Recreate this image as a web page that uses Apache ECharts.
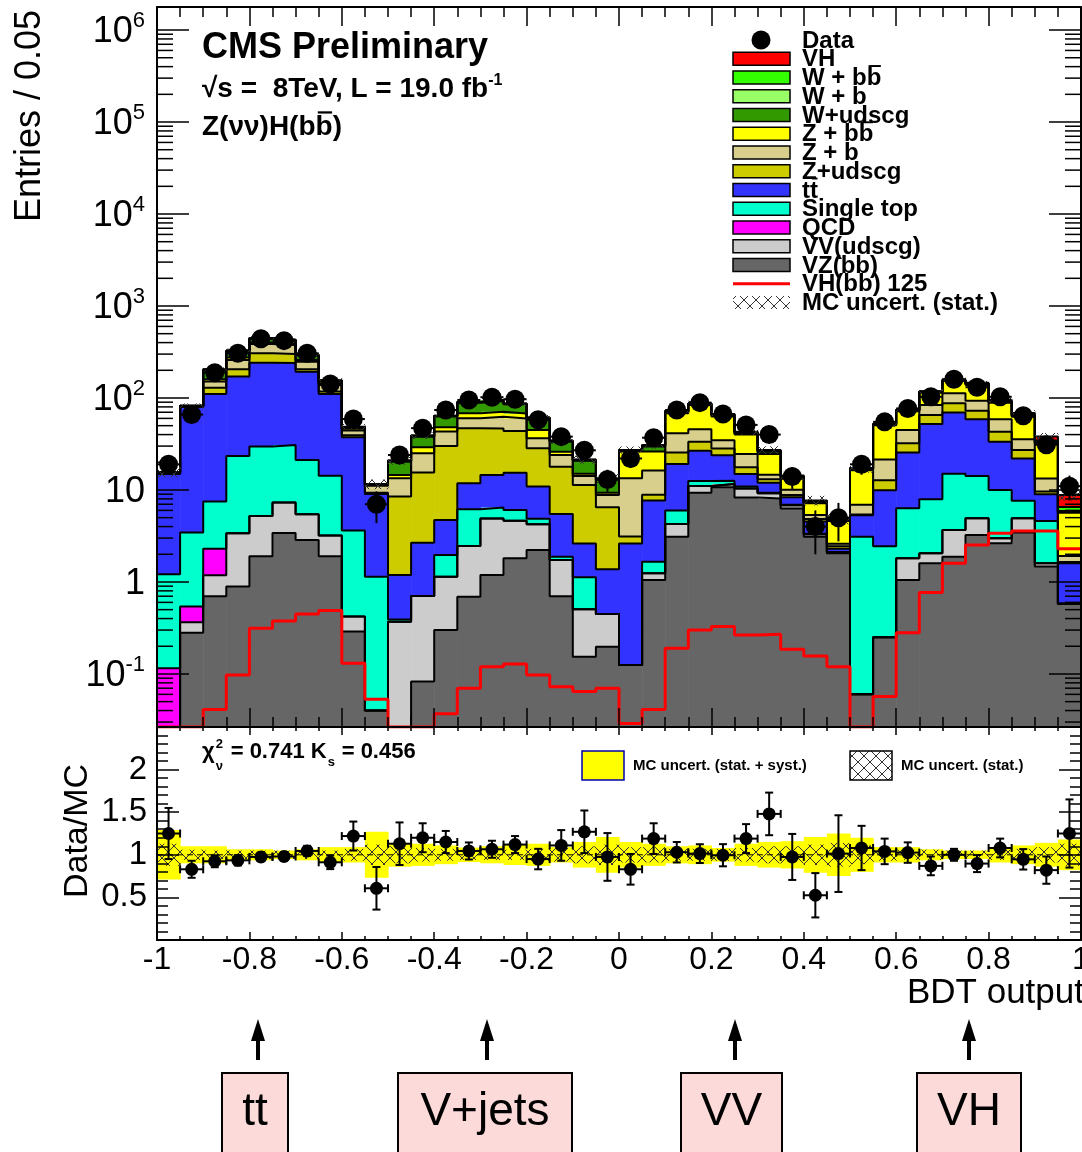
<!DOCTYPE html>
<html>
<head>
<meta charset="utf-8">
<title>Z(νν)H(bb̄) BDT output</title>
<script src="https://cdn.jsdelivr.net/npm/echarts@6/dist/echarts.min.js"></script>
<style>
  html, body { margin: 0; padding: 0; background: #ffffff; }
  #chart { width: 1082px; height: 1152px; }
</style>
</head>
<body>
<div id="chart"></div>
<script>
// ---------------- binning ----------------
const X_MIN = -1, X_MAX = 1, BIN_W = 0.05, N_BINS = 40;
const Y_MIN = 0.0265, Y_MAX = 1.78e6;     // upper pad (log)
const R_MIN = 0, R_MAX = 2.5;             // ratio pad
const FLOOR = 1e-4;                       // stand-in for empty bins on the log scale

// ---------------- background expectation per bin (stack, bottom first) ----------------
const vzbb      = [0, 0.28, 0.7, 0.89, 1.9, 3.4, 2.86, 1.9, 0.29, 0.04, 0, 0.083, 0.3, 0.69, 1.19, 1.81, 2.23, 0.7, 0.154, 0.198, 0.125, 1.05, 3.11, 9.35, 10.7, 8.3, 8.1, 6.3, 3.1, 2.05, 0.06, 0.25, 1.05, 1.6, 1.88, 3.24, 2.63, 3.44, 1.47, 0.58];
const vvudscg   = [0, 0.085, 0.48, 2.5, 3.3, 3.9, 2.6, 1.3, 0.13, 0, 0.37, 0.62, 0.84, 1.77, 3.7, 2.83, 2.0, 1.03, 0.35, 0.25, 0, 0.19, 1.16, 1.7, 0.9, 2.1, 1.1, 0.54, 0.2, 0.05, 0, 0, 0.76, 0.45, 1.79, 1.68, 0.35, 1.5, 0.13, 0];
const qcd       = [0.115, 0.175, 1.12, 0, 0, 0, 0, 0, 0, 0, 0, 0, 0, 0, 0, 0, 0, 0, 0, 0, 0, 0, 0, 0, 0, 0, 0, 0, 0, 0, 0, 0, 0, 0, 0, 0, 0, 0, 0, 0];
const singleTop = [1.1, 2.9, 5.2, 20, 24.4, 23.5, 15.7, 11.1, 3.2, 1.1, 0.02, 0, 0.82, 3.7, 1.56, 1.42, 0.65, 0.15, 0.62, 0, 0, 0.42, 1.7, 1.5, 1.0, 0.5, 0.1, 0.05, 0.05, 0, 3.05, 2.2, 4.5, 5.9, 11.3, 9.3, 7, 2.7, 3, 0];
const ttbar     = [13.7, 77, 103, 148, 212, 209, 172, 96, 33.8, 7.9, 0.8, 1.97, 2.76, 5.7, 8.1, 9.3, 6, 3.6, 1.5, 0.93, 2.5, 6, 13.2, 14.1, 11.3, 4, 2.7, 1.45, 1.2, 0.2, 2.2, 7.5, 19.2, 44.2, 54.4, 44.4, 23.5, 14.4, 4.4, 1.02];
const zudscg    = [0.2, 0.5, 19, 34, 64, 60, 12, 7, 2, 0.3, 7.3, 12.8, 25.4, 35, 32, 28.4, 17.5, 12.4, 8.7, 5.1, 0.5, 1.2, 6.3, 6.8, 4.4, 2.8, 1.1, 0.5, 0.3, 0.15, 0.1, 2.8, 6.6, 13.2, 18.2, 14.2, 9.5, 5.1, 0.6, 0.05];
const zb        = [0.3, 0.6, 21.5, 54, 80, 77, 43, 21, 5, 1.8, 4.9, 9.6, 13, 13.2, 15.8, 16, 8.1, 6.1, 2.9, 2.35, 10.3, 7.4, 15.8, 12.2, 6.5, 6.9, 1.5, 1.2, 0.5, 0.15, 1.5, 8.7, 12.8, 18.6, 25, 20.7, 15.6, 8.4, 3.7, 0.27];
const zbb       = [0.1, 0.2, 9, 16, 15, 12, 10, 5, 2, 0.2, 1.2, 4.1, 5, 8, 8.3, 8, 8.4, 2.1, 0.8, 0.5, 12.7, 9.9, 26.8, 38, 28, 15.5, 10, 3.2, 1.8, 2.0, 9.5, 29, 27, 30, 40, 45, 30, 27, 18.5, 3.74];
const wudscg    = [0.1, 0.3, 38, 45, 40, 35, 32, 10, 1.5, 0.1, 5.7, 8.8, 14.7, 20.8, 22, 17.5, 15, 7.4, 5.7, 3.5, 0.6, 3.5, 3, 2, 2.5, 1.5, 1.5, 0.5, 0.2, 0.1, 0.5, 1, 1.5, 2, 2.5, 3, 2, 1.5, 0.8, 0.1];
const wb        = [0.05, 0.1, 4, 4, 4, 3, 3, 1, 0.3, 0.05, 0.3, 0.6, 0.8, 1, 1.2, 1, 0.8, 0.5, 0.3, 0.2, 0.3, 0.6, 0.8, 0.8, 0.7, 0.5, 0.4, 0.2, 0.1, 0.05, 0.2, 0.4, 0.5, 0.7, 0.8, 1, 0.8, 0.6, 0.5, 0.15];
const wbb       = [0.05, 0.1, 3, 3, 3, 2, 2, 1, 0.3, 0.05, 0.3, 0.5, 0.6, 0.8, 1, 0.8, 0.6, 0.4, 0.3, 0.2, 0.2, 0.6, 0.8, 0.8, 0.7, 0.5, 0.4, 0.2, 0.1, 0.05, 0.2, 0.4, 0.5, 0.7, 0.8, 1, 0.8, 0.6, 1.5, 0.6];
// VH(bb) signal, m_H = 125 GeV (stacked on top and also drawn as a red line)
const vh125     = [0, 0, 0.041, 0.0975, 0.314, 0.377, 0.449, 0.488, 0.131, 0.053, 0, 0, 0.037, 0.070, 0.120, 0.128, 0.0975, 0.0728, 0.0643, 0.070, 0.029, 0.041, 0.19, 0.30, 0.327, 0.265, 0.27, 0.185, 0.157, 0.12, 0, 0.0567, 0.281, 0.766, 1.60, 2.52, 3.38, 3.58, 3.58, 2.29];

// ---------------- observed events ----------------
const dataCounts = [19, 66, 188, 306, 441, 420, 306, 142, 59, 7, 24, 47, 74, 95, 102, 97, 58, 38, 27, 13, 22, 37, 74, 89, 67, 51, 40, 14, 4, 5, 19, 55, 77, 103, 160, 131, 103, 64, 31, 11];

// ---------------- Data/MC ratio pad ----------------
const ratioValues = [1.25, 0.83, 0.924, 0.935, 0.975, 0.98, 1.045, 0.912, 1.22, 0.607, 1.13, 1.20, 1.15, 1.045, 1.065, 1.12, 0.95, 1.11, 1.27, 0.975, 0.83, 1.19, 1.03, 1.014, 0.995, 1.19, 1.48, 0.975, 0.525, 1.014, 1.08, 1.04, 1.026, 0.87, 1.0, 0.897, 1.08, 0.947, 0.82, 1.25];
const ratioErrors = [0.3, 0.1, 0.07, 0.06, 0.05, 0.05, 0.06, 0.08, 0.17, 0.25, 0.25, 0.17, 0.13, 0.1, 0.1, 0.1, 0.12, 0.18, 0.25, 0.28, 0.18, 0.18, 0.12, 0.11, 0.13, 0.17, 0.25, 0.27, 0.26, 0.45, 0.26, 0.15, 0.12, 0.11, 0.07, 0.1, 0.11, 0.12, 0.16, 0.4];
// relative MC uncertainties: statistical only, and stat. + syst.
const statBand  = [0.13, 0.06, 0.05, 0.05, 0.05, 0.05, 0.05, 0.05, 0.07, 0.12, 0.1, 0.08, 0.07, 0.06, 0.06, 0.06, 0.07, 0.08, 0.1, 0.12, 0.09, 0.09, 0.07, 0.07, 0.07, 0.08, 0.1, 0.1, 0.12, 0.14, 0.11, 0.07, 0.06, 0.06, 0.05, 0.05, 0.06, 0.07, 0.09, 0.13];
const totalBand = [0.29, 0.1, 0.1, 0.065, 0.065, 0.05, 0.065, 0.09, 0.09, 0.27, 0.14, 0.13, 0.11, 0.085, 0.1, 0.12, 0.13, 0.09, 0.15, 0.21, 0.15, 0.13, 0.1, 0.11, 0.08, 0.13, 0.15, 0.16, 0.21, 0.25, 0.2, 0.09, 0.09, 0.065, 0.05, 0.05, 0.09, 0.11, 0.14, 0.18];

// ---------------- axis tick labels ----------------
const xTickLabels = ['-1', '-0.8', '-0.6', '-0.4', '-0.2', '0', '0.2', '0.4', '0.6', '0.8', '1'];
const ratioTickLabels = ['0.5', '1', '1.5', '2'];

// ---------------- helpers ----------------
const FONT = '"Liberation Sans", Arial, Helvetica, sans-serif';
const centers = Array.from({ length: N_BINS }, (_, i) => X_MIN + (i + 0.5) * BIN_W);
const edges = Array.from({ length: N_BINS + 1 }, (_, i) => X_MIN + i * BIN_W);

// legend label, plus which characters carry an overbar (start index, length)
const stack = [
  { name: 'VZ(bb)',     values: vzbb,      color: '#666666' },
  { name: 'VV(udscg)',  values: vvudscg,   color: '#cccccc' },
  { name: 'QCD',        values: qcd,       color: '#ff00ff' },
  { name: 'Single top', values: singleTop, color: '#00ffcc' },
  { name: 'tt',         values: ttbar,     color: '#3333ff', bar: [1, 1] },
  { name: 'Z+udscg',    values: zudscg,    color: '#cccc00' },
  { name: 'Z + b',      values: zb,        color: '#d7cf8b' },
  { name: 'Z + bb',     values: zbb,       color: '#ffff00', bar: [5, 1] },
  { name: 'W+udscg',    values: wudscg,    color: '#339900' },
  { name: 'W + b',      values: wb,        color: '#99ff66' },
  { name: 'W + bb',     values: wbb,       color: '#33ff00', bar: [5, 1] },
  { name: 'VH',         values: vh125,     color: '#ff0000' }
];
let running = new Array(N_BINS).fill(0);
stack.forEach(c => {
  c.lo = running.slice();
  running = running.map((v, i) => v + c.values[i]);
  c.hi = running.slice();
});
const mcTotal = running;

function makeHatch() {
  const c = document.createElement('canvas');
  c.width = 12; c.height = 12;
  const g = c.getContext('2d');
  g.strokeStyle = '#333333';
  g.lineWidth = 1;
  g.beginPath();
  g.moveTo(0, 0); g.lineTo(12, 12);
  g.moveTo(12, 0); g.lineTo(0, 12);
  g.stroke();
  return c;
}
const hatch = { image: makeHatch(), repeat: 'repeat' };

const measureCtx = document.createElement('canvas').getContext('2d');
function textWidth(text, size, bold) {
  measureCtx.font = (bold ? 'bold ' : '') + size + 'px ' + FONT;
  return measureCtx.measureText(text).width;
}

function stepData(vals, floor) {
  const out = vals.map((v, i) => [edges[i], Math.max(v, floor)]);
  out.push([X_MAX, Math.max(vals[vals.length - 1], floor)]);
  return out;
}
function clipRect(params, x, y, w, h) {
  const cs = params.coordSys;
  return echarts.graphic.clipRectByRect({ x, y, width: w, height: h },
    { x: cs.x, y: cs.y, width: cs.width, height: cs.height });
}
function binRect(params, api, lo, hi, style, floor) {
  const xc = api.value(0);
  const a = api.coord([xc - BIN_W / 2, Math.max(hi, floor)]);
  const b = api.coord([xc + BIN_W / 2, Math.max(lo, floor)]);
  const shape = clipRect(params, a[0], a[1], b[0] - a[0] + 0.6, b[1] - a[1]);
  return shape ? { type: 'rect', shape, style } : { type: 'group', children: [] };
}

// ---------------- series ----------------
const series = [];

// stacked fills
stack.forEach(c => {
  series.push({
    type: 'custom', xAxisIndex: 0, yAxisIndex: 0, z: 2, silent: true,
    data: centers.map((x, i) => [x, c.hi[i], c.lo[i]]),
    renderItem: (params, api) => binRect(params, api, api.value(2), api.value(1), { fill: c.color }, FLOOR)
  });
});
// black outline of every stack level
stack.forEach(c => {
  series.push({
    type: 'line', xAxisIndex: 0, yAxisIndex: 0, z: 3, silent: true,
    step: 'end', symbol: 'none', lineStyle: { color: '#000000', width: 2 },
    data: stepData(c.hi, FLOOR)
  });
});
// VH(bb) 125 signal shape
series.push({
  type: 'line', xAxisIndex: 0, yAxisIndex: 0, z: 4, silent: true,
  step: 'end', symbol: 'none', lineStyle: { color: '#ff0000', width: 3 },
  data: stepData(vh125, Y_MIN)
});
// MC statistical uncertainty on the stack
series.push({
  type: 'custom', xAxisIndex: 0, yAxisIndex: 0, z: 4, silent: true,
  data: centers.map((x, i) => [x, mcTotal[i] * (1 + statBand[i]), mcTotal[i] * (1 - statBand[i])]),
  renderItem: (params, api) => binRect(params, api, api.value(2), api.value(1), { fill: hatch }, FLOOR)
});
// data error bars
series.push({
  type: 'custom', xAxisIndex: 0, yAxisIndex: 0, z: 5, silent: true,
  data: centers.map((x, i) => [x, dataCounts[i]]),
  renderItem(params, api) {
    const xc = api.value(0), n = api.value(1), e = Math.sqrt(n);
    const t = api.coord([xc, n + e]), b = api.coord([xc, Math.max(n - e, FLOOR)]);
    const l = api.coord([xc - BIN_W / 2, n]), r = api.coord([xc + BIN_W / 2, n]);
    const st = { stroke: '#000000', lineWidth: 2 };
    return { type: 'group', children: [
      { type: 'line', shape: { x1: t[0], y1: t[1], x2: b[0], y2: b[1] }, style: st },
      { type: 'line', shape: { x1: l[0], y1: l[1], x2: r[0], y2: r[1] }, style: st }
    ] };
  }
});
series.push({
  type: 'scatter', xAxisIndex: 0, yAxisIndex: 0, z: 6, silent: true,
  symbol: 'circle', symbolSize: 19, itemStyle: { color: '#000000', opacity: 1 },
  data: centers.map((x, i) => [x, dataCounts[i]])
});
// minor ticks of the log axis (2..9 x 10^n), both sides of the frame
const logMinorTicks = [];
for (let e = -2; e <= 6; e++) {
  for (let m = 2; m <= 9; m++) {
    const v = m * Math.pow(10, e);
    if (v > Y_MIN && v < Y_MAX) logMinorTicks.push(v);
  }
}
series.push({
  type: 'custom', xAxisIndex: 0, yAxisIndex: 0, z: 9, silent: true,
  data: logMinorTicks.map(v => [X_MIN, v]),
  renderItem(params, api) {
    const y = api.coord([X_MIN, api.value(1)])[1];
    const cs = params.coordSys;
    const st = { stroke: '#000000', lineWidth: 1.5 };
    return { type: 'group', children: [
      { type: 'line', shape: { x1: cs.x, y1: y, x2: cs.x + 16, y2: y }, style: st },
      { type: 'line', shape: { x1: cs.x + cs.width - 16, y1: y, x2: cs.x + cs.width, y2: y }, style: st }
    ] };
  }
});

// ratio pad: stat.+syst. band, stat. band, unity line, points
series.push({
  type: 'custom', xAxisIndex: 2, yAxisIndex: 2, z: 2, silent: true,
  data: centers.map((x, i) => [x, 1 + totalBand[i], 1 - totalBand[i]]),
  renderItem: (params, api) => binRect(params, api, api.value(2), api.value(1), { fill: '#ffff00' }, -1)
});
series.push({
  type: 'custom', xAxisIndex: 2, yAxisIndex: 2, z: 3, silent: true,
  data: centers.map((x, i) => [x, 1 + statBand[i], 1 - statBand[i]]),
  renderItem: (params, api) => binRect(params, api, api.value(2), api.value(1), { fill: hatch }, -1)
});
series.push({
  type: 'line', xAxisIndex: 2, yAxisIndex: 2, z: 3, silent: true, symbol: 'none',
  lineStyle: { color: '#000000', width: 1, type: [6, 4] },
  data: [[X_MIN, 1], [X_MAX, 1]]
});
series.push({
  type: 'custom', xAxisIndex: 2, yAxisIndex: 2, z: 5, silent: true,
  data: centers.map((x, i) => [x, ratioValues[i], ratioErrors[i]]),
  renderItem(params, api) {
    const xc = api.value(0), r = api.value(1), e = api.value(2);
    const t = api.coord([xc, r + e]), b = api.coord([xc, r - e]);
    const l = api.coord([xc - BIN_W / 2, r]), rr = api.coord([xc + BIN_W / 2, r]);
    const st = { stroke: '#000000', lineWidth: 2 };
    const cap = 4;
    return { type: 'group', children: [
      { type: 'line', shape: { x1: t[0], y1: t[1], x2: b[0], y2: b[1] }, style: st },
      { type: 'line', shape: { x1: t[0] - cap, y1: t[1], x2: t[0] + cap, y2: t[1] }, style: st },
      { type: 'line', shape: { x1: b[0] - cap, y1: b[1], x2: b[0] + cap, y2: b[1] }, style: st },
      { type: 'line', shape: { x1: l[0], y1: l[1], x2: rr[0], y2: rr[1] }, style: st },
      { type: 'line', shape: { x1: l[0], y1: l[1] - cap, x2: l[0], y2: l[1] + cap }, style: st },
      { type: 'line', shape: { x1: rr[0], y1: rr[1] - cap, x2: rr[0], y2: rr[1] + cap }, style: st }
    ] };
  }
});
series.push({
  type: 'scatter', xAxisIndex: 2, yAxisIndex: 2, z: 6, silent: true,
  symbol: 'circle', symbolSize: 13, itemStyle: { color: '#000000', opacity: 1 },
  data: centers.map((x, i) => [x, ratioValues[i]])
});

// ---------------- axes ----------------
const frameLine = { show: true, onZero: false, lineStyle: { color: '#000000', width: 2 } };
function xAxisDef(grid, position, major, minor, labels) {
  return {
    type: 'value', gridIndex: grid, position, min: X_MIN, max: X_MAX, interval: 0.2, z: 10,
    axisLine: frameLine,
    axisTick: { show: true, inside: true, length: major, lineStyle: { color: '#000000', width: 1.5 } },
    minorTick: { show: true, splitNumber: 4, length: minor, lineStyle: { color: '#000000', width: 1.5 } },
    splitLine: { show: false },
    axisLabel: labels ? {
      show: true, color: '#000000', fontFamily: FONT, fontSize: 32, margin: 4,
      formatter: v => xTickLabels[Math.round((v - X_MIN) / 0.2)] ?? ''
    } : { show: false }
  };
}
function logLabel(v) {
  const e = Math.log10(v), n = Math.round(e);
  if (Math.abs(e - n) > 1e-6) return '';
  if (n === 0) return '{b|1}';
  if (n === 1) return '{b|10}';
  return '{b|10}{s|' + n + '}';
}
function logAxisDef(position, labels) {
  return {
    type: 'log', logBase: 10, gridIndex: 0, position, min: Y_MIN, max: Y_MAX, z: 10,
    axisLine: frameLine,
    axisTick: { show: true, inside: true, length: 32, lineStyle: { color: '#000000', width: 1.5 } },
    minorTick: { show: false },
    splitLine: { show: false },
    axisLabel: labels ? {
      show: true, margin: 12, formatter: logLabel,
      rich: {
        b: { fontFamily: FONT, fontSize: 36, color: '#000000', lineHeight: 40, verticalAlign: 'bottom' },
        s: { fontFamily: FONT, fontSize: 22, color: '#000000', lineHeight: 22, verticalAlign: 'top' }
      }
    } : { show: false }
  };
}
function ratioAxisDef(position, labels) {
  return {
    type: 'value', gridIndex: 1, position, min: R_MIN, max: R_MAX, interval: 0.5, z: 10,
    axisLine: frameLine,
    axisTick: { show: true, inside: true, length: 22, lineStyle: { color: '#000000', width: 1.5 } },
    minorTick: { show: true, splitNumber: 5, length: 11, lineStyle: { color: '#000000', width: 1.5 } },
    splitLine: { show: false },
    axisLabel: labels ? {
      show: true, color: '#000000', fontFamily: FONT, fontSize: 33, margin: 10,
      formatter: v => {
        const k = Math.round(v / 0.5) - 1;
        return (k >= 0 && k < ratioTickLabels.length) ? ratioTickLabels[k] : '';
      }
    } : { show: false }
  };
}

// ---------------- annotation graphics ----------------
const graphics = [];
function txt(x, y, text, size, opts = {}) {
  graphics.push({
    type: 'text', x, y, z: 100, rotation: opts.rotation || 0, silent: true,
    style: {
      text, fill: '#000000', fontFamily: FONT, fontSize: size, fontWeight: opts.bold ? 'bold' : 'normal',
      textAlign: opts.align || 'left', align: opts.align || 'left',
      textVerticalAlign: 'middle', verticalAlign: 'middle',
      rich: opts.rich
    }
  });
}
// overbar above part of a left-aligned, vertically centred text
function overbar(x, y, text, start, len, size, bold) {
  const x0 = x + textWidth(text.slice(0, start), size, bold);
  const x1 = x0 + textWidth(text.slice(start, start + len), size, bold);
  const yb = y - 0.52 * size;
  graphics.push({ type: 'line', z: 100, silent: true,
    shape: { x1: x0 + 0.08 * size, y1: yb, x2: x1 - 0.02 * size, y2: yb },
    style: { stroke: '#000', lineWidth: Math.max(1.5, 0.08 * size) } });
}
// axis titles
txt(30, 10, 'Entries / 0.05', 36, { rotation: Math.PI / 2, align: 'right' });
txt(78, 831, 'Data/MC', 34, { rotation: Math.PI / 2, align: 'center' });
txt(1084, 993, 'BDT output', 35, { align: 'right' });
// plot labels
txt(202, 48, 'CMS Preliminary', 36, { bold: true });
txt(202, 88, '{a|\u221As =  8TeV, L = 19.0 fb}{s|-1}', 28, {
  bold: true,
  rich: {
    a: { fontFamily: FONT, fontSize: 28, fontWeight: 'bold', color: '#000', lineHeight: 30, verticalAlign: 'bottom' },
    s: { fontFamily: FONT, fontSize: 16, fontWeight: 'bold', color: '#000', lineHeight: 16, verticalAlign: 'top' }
  }
});
const channelText = 'Z(\u03BD\u03BD)H(bb)';
txt(202, 127, channelText, 28, { bold: true });
overbar(202, 127, channelText, 8, 1, 28, true);

// fit quality in the ratio pad
const FQ = 22;
txt(202, 752, '\u03C7', FQ, { bold: true });
const chiEnd = 202 + textWidth('\u03C7', FQ, true) + 1;
txt(chiEnd, 744, '2', 13, { bold: true });
txt(chiEnd, 766, '\u03BD', 13, { bold: true });
const part1 = '= 0.741 K';
txt(chiEnd + 15, 752, part1, FQ, { bold: true });
const kEnd = chiEnd + 15 + textWidth(part1, FQ, true) + 1;
txt(kEnd, 762, 's', 13, { bold: true });
txt(kEnd + 14, 752, '= 0.456', FQ, { bold: true });

// legend of the upper pad
const LG = 24;
const legendEntries = [{ label: 'Data', kind: 'marker' }]
  .concat(stack.slice().reverse().map(c => ({ label: c.name, kind: 'box', color: c.color, bar: c.bar })))
  .concat([{ label: 'VH(bb) 125', kind: 'line', color: '#ff0000' }, { label: 'MC uncert. (stat.)', kind: 'hatch' }]);
legendEntries.forEach((e, k) => {
  const y = 40 + k * 18.75;
  if (e.kind === 'marker') {
    graphics.push({ type: 'circle', z: 100, silent: true, shape: { cx: 761, cy: y, r: 9.5 }, style: { fill: '#000' } });
  } else if (e.kind === 'box') {
    graphics.push({ type: 'rect', z: 100, silent: true, shape: { x: 733, y: y - 6.5, width: 57, height: 13 },
      style: { fill: e.color, stroke: '#000', lineWidth: 1.5 } });
  } else if (e.kind === 'line') {
    graphics.push({ type: 'line', z: 100, silent: true, shape: { x1: 733, y1: y, x2: 790, y2: y },
      style: { stroke: e.color, lineWidth: 3 } });
  } else {
    graphics.push({ type: 'rect', z: 100, silent: true, shape: { x: 733, y: y - 6.5, width: 57, height: 13 },
      style: { fill: hatch } });
  }
  txt(802, y + 1, e.label, LG, { bold: true });
  if (e.bar) overbar(802, y + 1, e.label, e.bar[0], e.bar[1], LG, true);
});

// legend of the ratio pad
graphics.push({ type: 'rect', z: 100, silent: true, shape: { x: 582, y: 751, width: 42, height: 29 },
  style: { fill: '#ffff00', stroke: '#0000aa', lineWidth: 1.5 } });
txt(633, 766, 'MC uncert. (stat. + syst.)', 15, { bold: true });
graphics.push({ type: 'rect', z: 100, silent: true, shape: { x: 850, y: 751, width: 42, height: 29 },
  style: { fill: hatch, stroke: '#000', lineWidth: 1.5 } });
txt(901, 766, 'MC uncert. (stat.)', 15, { bold: true });

// process regions along the BDT output
const regionLabels = ['tt', 'V+jets', 'VV', 'VH'];
const regionArrowX = [258, 487, 735, 969];
const regionBoxX = [[222, 288], [398, 572], [681, 782], [917, 1021]];
regionLabels.forEach((lab, k) => {
  const ax = regionArrowX[k];
  graphics.push({ type: 'line', z: 100, silent: true, shape: { x1: ax, y1: 1060, x2: ax, y2: 1034 },
    style: { stroke: '#000', lineWidth: 4 } });
  graphics.push({ type: 'polygon', z: 100, silent: true, shape: { points: [[ax, 1019], [ax - 7, 1041], [ax + 7, 1041]] },
    style: { fill: '#000' } });
  const [x0, x1] = regionBoxX[k];
  graphics.push({ type: 'rect', z: 100, silent: true, shape: { x: x0, y: 1073, width: x1 - x0, height: 100 },
    style: { fill: '#fddada', stroke: '#000', lineWidth: 2 } });
  txt((x0 + x1) / 2, 1112, lab, 46, { align: 'center' });
});

// ---------------- chart ----------------
const chart = echarts.init(document.getElementById('chart'), null, { renderer: 'canvas' });
chart.setOption({
  animation: false,
  backgroundColor: '#ffffff',
  textStyle: { fontFamily: FONT },
  grid: [
    { left: 157, top: 7, width: 924, height: 720, containLabel: false, outerBoundsMode: 'none' },
    { left: 157, top: 727, width: 924, height: 213, containLabel: false, outerBoundsMode: 'none' }
  ],
  xAxis: [
    xAxisDef(0, 'bottom', 19, 10, false),
    xAxisDef(0, 'top', 19, 10, false),
    xAxisDef(1, 'bottom', 8, 4, true),
    xAxisDef(1, 'top', 8, 4, false)
  ],
  yAxis: [
    logAxisDef('left', true),
    logAxisDef('right', false),
    ratioAxisDef('left', true),
    ratioAxisDef('right', false)
  ],
  series,
  graphic: { elements: graphics }
});
</script>
</body>
</html>
